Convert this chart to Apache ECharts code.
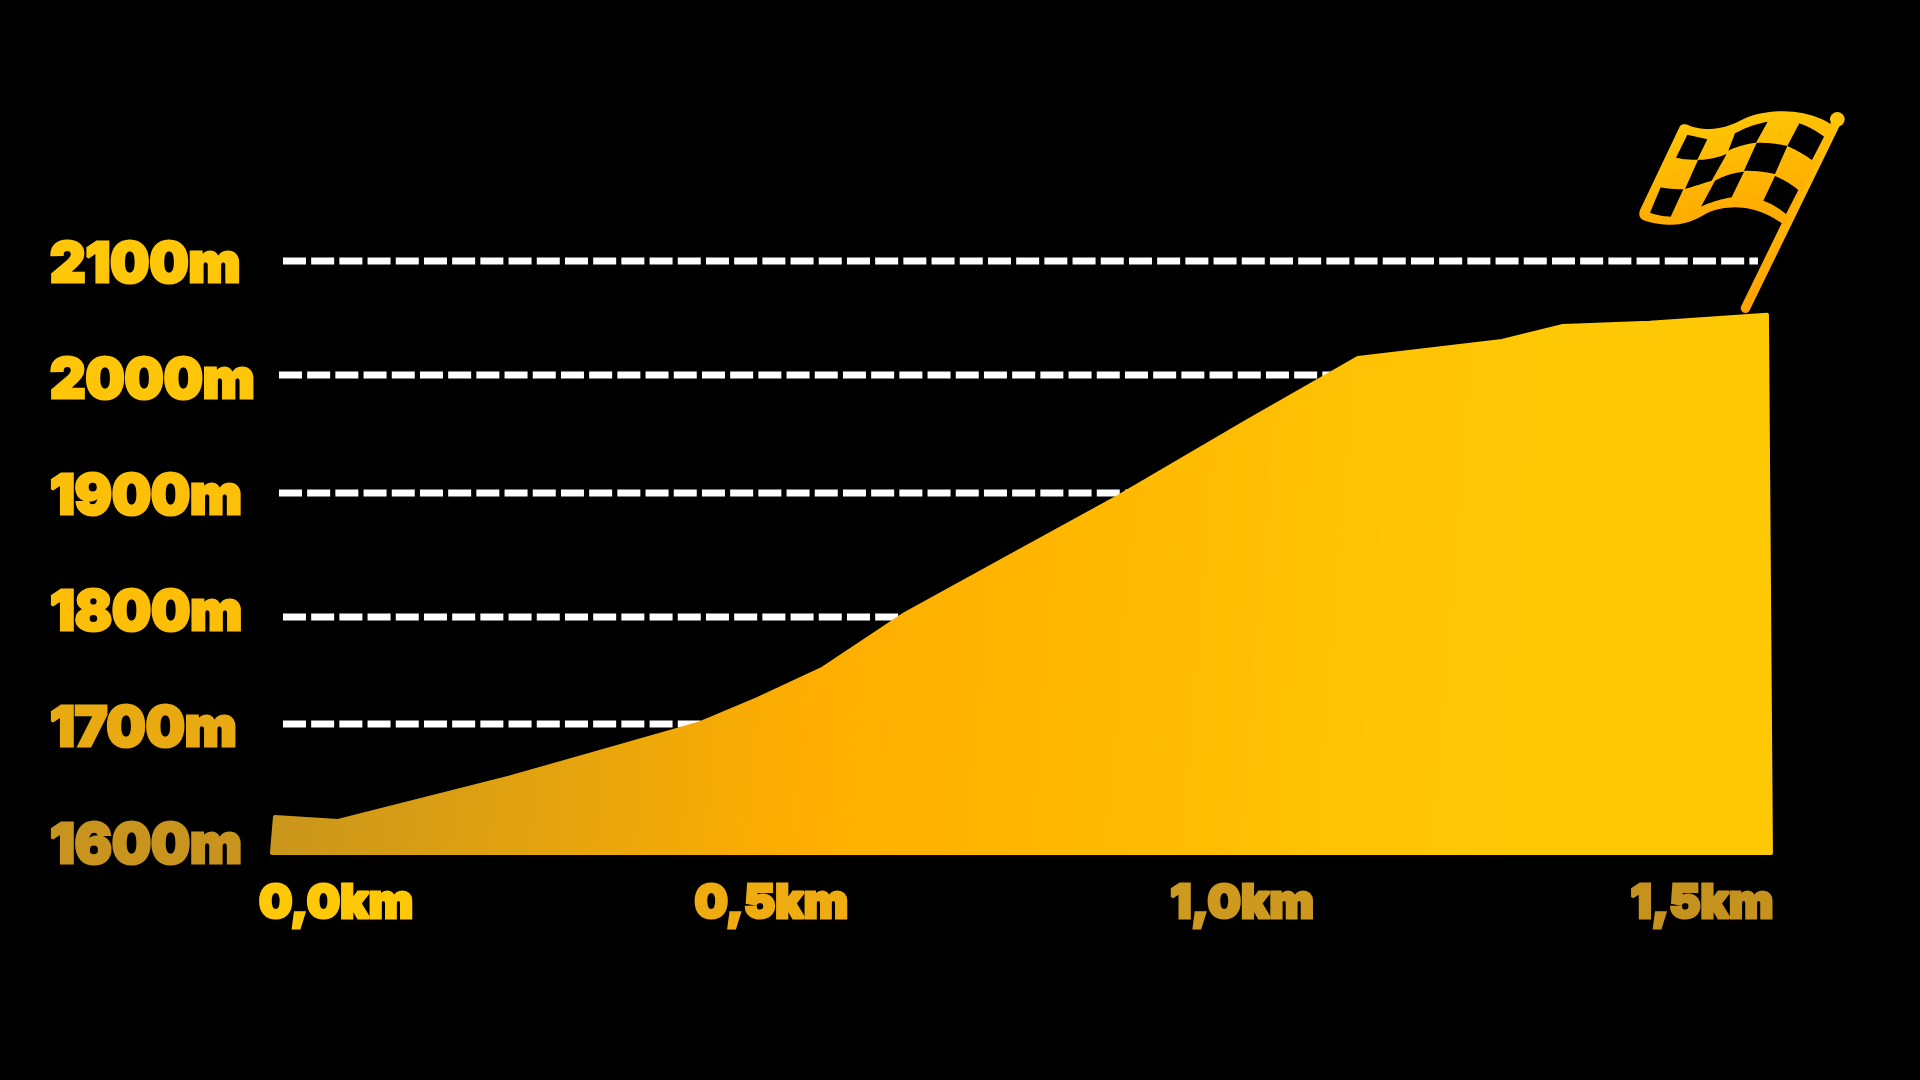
<!DOCTYPE html>
<html>
<head>
<meta charset="utf-8">
<style>html,body{margin:0;padding:0;background:#000;}#c{width:1920px;height:1080px;}</style>
<script src="https://cdn.jsdelivr.net/npm/echarts@6/dist/echarts.min.js"></script>
</head>
<body>
<div id="c"></div>
<script>
// ---- data ----
const profileKm = [-0.0703,-0.067,0.0022,0.19,0.282,0.3975,0.4628,0.5348,0.6248,0.7346,0.8587,0.9993,1.1222,1.2804,1.3473,1.4429,1.5714,1.5758,-0.0703];
const profileM  = [1591.4,1622.4,1619.0,1656.2,1676.6,1702.4,1723.9,1750.2,1797.1,1844.4,1897.8,1962.3,2017.4,2032.0,2044.9,2047.8,2054.7,1591.4,1591.4];
const baseM = 1591.4;
const dashValues = [2100.9,2002.8,1901.2,1794.5,1702.4];
const dashStartKm = [-0.0582,-0.0626,-0.0626,-0.0582,-0.0582];
const dashEndKm = [1.5615,1.2,1.0,0.8,0.6];
const yTickValues = [1600,1700,1800,1900,2000,2100];
const yTickLabels = ['1600m','1700m','1800m','1900m','2000m','2100m'];
const xTickValues = [0,0.478,0.995,1.5];
const xTickLabels = ['0,0km','0,5km','1,0km','1,5km'];
// ---- styling ----
const yLabelColors = ['#C8941E','#E9A910','#FDBE08','#FDBF08','#FFC508','#FFC708'];
const xLabelColors = ['#FFC805','#EFAC10','#CD991E','#C6921E'];
const FONT = 'Inter';

function richFrom(colors, size, topPad){
  const r = {};
  colors.forEach((c,i)=>{ r['c'+i] = {color:c,fontFamily:FONT,fontWeight:900,fontSize:size,textBorderColor:c,textBorderWidth:3,padding:[topPad,0,0,0]}; });
  return r;
}
// turn a small svg-like outline into polygon points for the flag decoration
function outline(d){
  const t = d.trim().split(/[\s,]+/); let i=0,cmd='',x=0,y=0; const pts=[];
  while(i<t.length){
    if(/[MLCQ]/.test(t[i])) cmd=t[i++];
    if(cmd==='M'||cmd==='L'){x=+t[i++];y=+t[i++];pts.push([x,y]);}
    else if(cmd==='Q'){const a=+t[i++],b=+t[i++],c=+t[i++],e=+t[i++];
      for(let k=1;k<=12;k++){const s=k/12,u=1-s;pts.push([u*u*x+2*u*s*a+s*s*c,u*u*y+2*u*s*b+s*s*e]);}x=c;y=e;}
    else if(cmd==='C'){const a=+t[i++],b=+t[i++],c=+t[i++],e=+t[i++],f=+t[i++],g=+t[i++];
      for(let k=1;k<=20;k++){const s=k/20,u=1-s;pts.push([u*u*u*x+3*u*u*s*a+3*u*s*s*c+s*s*s*f,u*u*u*y+3*u*u*s*b+3*u*s*s*e+s*s*s*g]);}x=f;y=g;}
  }
  return pts;
}
const flagFill = {type:'linear',x:0,y:0,x2:0.1,y2:1,colorStops:[{offset:0,color:'#FFCB05'},{offset:1,color:'#FFAC00'}]};
const flagBody = 'M 240 108 Q 250 98 266 106 C 310 124 368 120 420 92 C 490 55 610 50 692 102 L 700 130 L 552 405 C 480 350 400 340 330 365 C 290 385 240 425 135 392 Q 112 385 120 360';
const flagCells = [
 'M 262 134 L 322 148 L 292 209 Q 258 210 228 203',
 'M 405 130 Q 450 105 503 95 L 468 158 Q 420 165 385 182',
 'M 598 100 Q 640 115 672 140 L 636 210 Q 600 185 562 168',
 'M 294 210 Q 340 208 380 192 L 335 272 Q 295 285 255 297',
 'M 470 158 Q 520 158 562 168 L 525 252 Q 480 242 432 242',
 'M 345 272 Q 385 250 432 245 L 395 322 Q 345 330 303 350',
 'M 525 258 Q 565 275 595 300 L 558 372 Q 525 345 490 332',
 'M 182 292 Q 215 298 250 298 L 212 380 Q 175 378 150 368'
];
const flagChildren = [
  {type:'line',shape:{x1:436,y1:655,x2:712,y2:90},style:{lineWidth:28,lineCap:'round',stroke:{type:'linear',x:0,y:0,x2:0,y2:1,colorStops:[{offset:0,color:'#FFC605'},{offset:1,color:'#FFA300'}],global:false}}},
  {type:'polygon',shape:{points:outline(flagBody)},style:{fill:flagFill}},
  {type:'circle',shape:{cx:712,cy:88,r:22},style:{fill:'#FFC505'}}
].concat(flagCells.map(d=>({type:'polygon',shape:{points:outline(d)},style:{fill:'#000'}})));

const areaFill = {type:'linear',x:270,y:700,x2:1500,y2:800,global:true,colorStops:[
  {offset:0,color:'#C8951C'},{offset:0.24,color:'#E5A40E'},{offset:0.44,color:'#FFAE00'},
  {offset:0.62,color:'#FFB600'},{offset:0.9,color:'#FFC405'},{offset:1,color:'#FFC805'}]};

const pairs = (a,b)=>a.map((v,i)=>[v,b[i]]);
const dashSeries = dashValues.map((v,i)=>({
  type:'line',name:'grid'+i,silent:true,symbol:'none',z:1,
  data:[[dashStartKm[i],v],[dashEndKm[i],v]],
  lineStyle:{color:'#FFFFFF',width:7,type:[23,5.2],cap:'butt'}
}));

const chart = echarts.init(document.getElementById('c'),null,{width:1920,height:1080});
chart.setOption({
  animation:false,
  backgroundColor:'#000000',
  grid:{left:244.9,top:145.8,width:1548.1,height:755.3,containLabel:false},
  xAxis:{type:'value',min:-0.1,max:1.6,splitLine:{show:false},axisLine:{show:false},axisTick:{show:false},
    axisLabel:{customValues:xTickValues,margin:3,verticalAlign:'middle',align:'center',
      formatter:v=>{const i=xTickValues.indexOf(v);return '{c'+i+'|'+xTickLabels[i]+'}';},rich:richFrom(xLabelColors,47,0)}},
  yAxis:{type:'value',min:1550,max:2200,splitLine:{show:false},axisLine:{show:false},axisTick:{show:false},
    axisLabel:{customValues:yTickValues,margin:195,align:'left',verticalAlign:'middle',
      formatter:v=>{const i=yTickValues.indexOf(v);return '{c'+i+'|'+yTickLabels[i]+'}';},rich:richFrom(yLabelColors,55,6)}},
  series:dashSeries.concat([{
    type:'line',name:'Elevation',z:3,symbol:'none',showSymbol:false,silent:true,
    data:pairs(profileKm,profileM),
    lineStyle:{color:areaFill,width:4,join:'round',cap:'round'},
    areaStyle:{color:areaFill,opacity:1,origin:baseM}
  }]),
  graphic:[{type:'group',x:1600,y:90,scaleX:1/3,scaleY:1/3,silent:true,children:flagChildren}]
});
</script>
</body>
</html>
